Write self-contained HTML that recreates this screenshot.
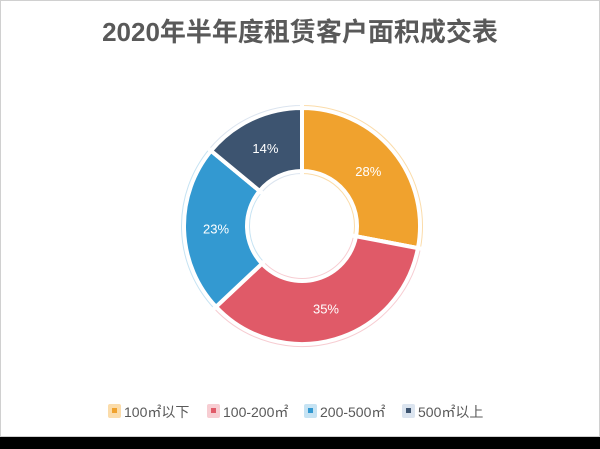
<!DOCTYPE html>
<html><head><meta charset="utf-8"><style>
html,body{margin:0;padding:0;background:#fff;}
#wrap{position:relative;width:600px;height:449px;background:#000;overflow:hidden;}
#card{position:absolute;left:0;top:0;width:598px;height:435px;background:#fff;border:1px solid #d0d0d0;}
#title{position:absolute;left:0;top:12px;width:600px;text-align:center;font:bold 26px "Liberation Sans","Noto Sans CJK SC",sans-serif;color:#595959;}
svg{position:absolute;left:0;top:0;}
.leg{font:14px "Liberation Sans","Noto Sans CJK SC",sans-serif;fill:#595959;}
</style></head><body>
<div id="wrap">
<div id="card"></div>
<div id="title">2020年半年度租赁客户面积成交表</div>
<svg id="chart" width="600" height="449"></svg>
</div>
<script>
const categories=["100㎡以下","100-200㎡","200-500㎡","500㎡以上"];
const values=[28,35,23,14];
const labels=["28%","35%","23%","14%"];
const colors=["#f0a22e","#e05a68","#3399d1","#3d5470"];
const halos=["#fbdcaa","#f7cdd2","#c6e3f3","#dbe4ef"];
const NS="http://www.w3.org/2000/svg";
const svg=document.getElementById('chart');
const cx=302,cy=226;
const total=values.reduce((a,b)=>a+b,0);
function pt(r,a){return [cx+r*Math.sin(a),cy-r*Math.cos(a)];}
function arc(r0,r1,a0,a1){
  const big=(a1-a0)>Math.PI?1:0;
  const p0=pt(r1,a0),p1=pt(r1,a1),p2=pt(r0,a1),p3=pt(r0,a0);
  return `M${p0[0]},${p0[1]}A${r1},${r1} 0 ${big} 1 ${p1[0]},${p1[1]}L${p2[0]},${p2[1]}A${r0},${r0} 0 ${big} 0 ${p3[0]},${p3[1]}Z`;
}
let acc=0;
values.forEach((v,i)=>{
  const a0=acc/total*2*Math.PI; acc+=v; const a1=acc/total*2*Math.PI;
  const h=document.createElementNS(NS,'path');
  h.setAttribute('d',arc(50,123,a0,a1));
  h.setAttribute('fill',halos[i]);h.setAttribute('stroke','#fff');h.setAttribute('stroke-width','4');
  
  
  svg.appendChild(h);
  const s=document.createElementNS(NS,'path');
  s.setAttribute('d',arc(55,118,a0,a1));
  s.setAttribute('fill',colors[i]);s.setAttribute('stroke','#fff');s.setAttribute('stroke-width','4');
  
  
  svg.appendChild(s);
  const m=(a0+a1)/2,p=pt(86,m);
  const t=document.createElementNS(NS,'text');
  t.setAttribute('x',p[0]);t.setAttribute('y',p[1]+5);t.setAttribute('text-anchor','middle');
  t.setAttribute('style','font:13px "Liberation Sans",sans-serif;fill:#fff');
  t.textContent=labels[i];
  
  
  svg.appendChild(t);
});
const legX=[108,207,304,402];
categories.forEach((c,i)=>{
  const g=document.createElementNS(NS,'g');
  
  
  const b=document.createElementNS(NS,'rect');
  b.setAttribute('x',legX[i]);b.setAttribute('y',404);b.setAttribute('width',13);b.setAttribute('height',14);b.setAttribute('rx',2);b.setAttribute('fill',halos[i]);
  g.appendChild(b);
  const s=document.createElementNS(NS,'rect');
  s.setAttribute('x',legX[i]+4);s.setAttribute('y',408);s.setAttribute('width',5);s.setAttribute('height',5);s.setAttribute('fill',colors[i]);
  g.appendChild(s);
  const t=document.createElementNS(NS,'text');
  t.setAttribute('x',legX[i]+16);t.setAttribute('y',417);t.setAttribute('class','leg');
  t.textContent=c;
  g.appendChild(t);
  svg.appendChild(g);
});
</script>
</body></html>
